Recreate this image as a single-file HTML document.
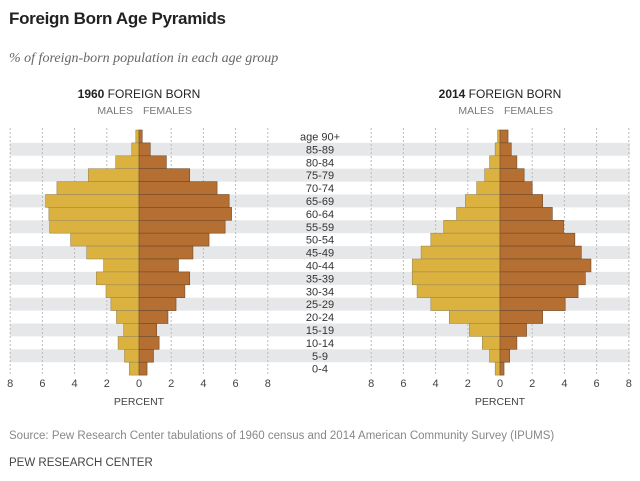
<!DOCTYPE html>
<html><head><meta charset="utf-8"><style>
body{margin:0;background:#fff;width:640px;height:481px;overflow:hidden;font-family:"Liberation Sans",sans-serif}
svg{display:block}
</style></head><body>
<svg id="c" width="640" height="481">
<text x="9" y="24" font-size="17" font-weight="bold" fill="#222" style="letter-spacing:-0.3px">Foreign Born Age Pyramids</text>
<text x="9" y="62" font-size="14" font-style="italic" fill="#666" font-family="Liberation Serif,serif">% of foreign-born population in each age group</text>
<g id="stripes"></g><g id="grid"></g><g id="bars"></g><g id="labels"></g>
<text x="9" y="439" font-size="11.5" fill="#888">Source: Pew Research Center tabulations of 1960 census and 2014 American Community Survey (IPUMS)</text>
<text x="9" y="466" font-size="11.5" fill="#444">PEW RESEARCH CENTER</text>
</svg>
<script>
const ages=["age 90+","85-89","80-84","75-79","70-74","65-69","60-64","55-59","50-54","45-49","40-44","35-39","30-34","25-29","20-24","15-19","10-14","5-9","0-4"];
const m1960=[0.2,0.45,1.45,3.15,5.1,5.8,5.6,5.55,4.25,3.25,2.2,2.65,2.05,1.75,1.4,0.95,1.3,0.9,0.6];
const f1960=[0.2,0.7,1.7,3.15,4.85,5.6,5.75,5.35,4.35,3.35,2.45,3.15,2.85,2.3,1.8,1.1,1.25,0.9,0.5];
const m2014=[0.15,0.3,0.65,0.95,1.45,2.15,2.7,3.5,4.3,4.9,5.45,5.45,5.15,4.3,3.15,1.9,1.1,0.65,0.3];
const f2014=[0.5,0.7,1.05,1.5,2.0,2.65,3.25,3.95,4.65,5.05,5.65,5.3,4.85,4.05,2.65,1.65,1.05,0.6,0.25];
const ticks=[8,6,4,2,0,2,4,6,8];
const NS="http://www.w3.org/2000/svg";
const top0=130,rowH=12.9,unit=16.1;
const y=i=>top0+i*rowH;
function mk(g,tag,attrs){const e=document.createElementNS(NS,tag);for(const k in attrs)e.setAttribute(k,attrs[k]);document.getElementById(g).appendChild(e);return e;}
const panels=[{z:139,m:m1960,f:f1960,yr:"1960",nm:"1960"},{z:500,m:m2014,f:f2014,yr:"2014",nm:"2014"}];
ages.forEach((a,i)=>{
 if(i%2==1){const s=mk("stripes","rect",{x:10,y:y(i),width:620,height:rowH,fill:"#e6e7e8"});
 
 }
 const t=mk("labels","text",{x:320,y:y(i)+rowH/2+4,"font-size":"11","text-anchor":"middle",fill:"#333"});
 t.textContent=a;
 
 
});
panels.forEach(p=>{
 const sx=v=>v*unit;
 ticks.forEach((tv,j)=>{
  const xv=p.z+(j<4?-1:1)*sx(tv);
  if(tv!==0){const l=mk("grid","line",{x1:xv,x2:xv,y1:128,y2:376,stroke:"#bbb","stroke-dasharray":"2,2"});
  
  }
  const t=mk("labels","text",{x:xv,y:387,"font-size":"11","text-anchor":"middle",fill:"#444"});
  t.textContent=tv;
  
  
 });
 ages.forEach((a,i)=>{
  const bm=mk("bars","rect",{x:p.z-sx(p.m[i]),y:y(i),width:sx(p.m[i]),height:rowH,fill:"#dbb13f",stroke:"#9a8a5a","stroke-width":"0.6"});
  
  
  const bf=mk("bars","rect",{x:p.z,y:y(i),width:sx(p.f[i]),height:rowH,fill:"#b56f32",stroke:"#6e4a2a","stroke-width":"0.6"});
  
  
 });
 const h=mk("labels","text",{x:p.z,y:98,"font-size":"12","text-anchor":"middle",fill:"#222"});
 h.innerHTML='<tspan font-weight="bold">'+p.yr+'</tspan> FOREIGN BORN';
 
 
 const ml=mk("labels","text",{x:p.z-6,y:114,"font-size":"10.5","text-anchor":"end",fill:"#777"});
 ml.textContent="MALES";
 
 
 const fl=mk("labels","text",{x:p.z+4,y:114,"font-size":"10.5",fill:"#777"});
 fl.textContent="FEMALES";
 
 
 const pl=mk("labels","text",{x:p.z,y:405,"font-size":"10.5","text-anchor":"middle",fill:"#444"});
 pl.textContent="PERCENT";
 
 
});
</script>
</body></html>
